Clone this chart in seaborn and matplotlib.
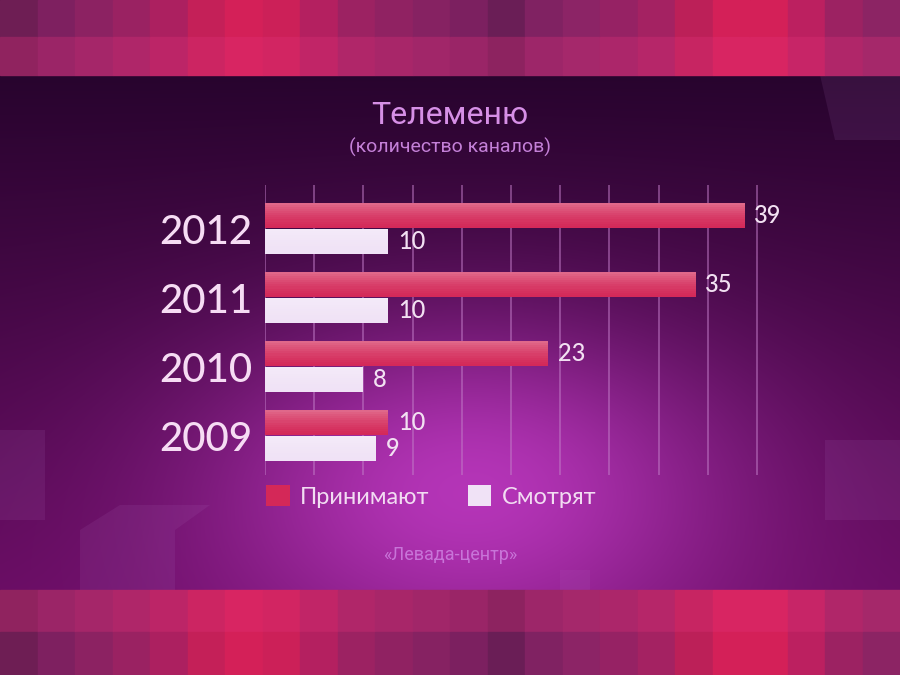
import numpy as np
import pandas as pd
import matplotlib
matplotlib.use("Agg")
import matplotlib.pyplot as plt
import matplotlib.colors as mcolors
from matplotlib.patches import Rectangle, Polygon
import seaborn as sns

# data
years = ["2012", "2011", "2010", "2009"]
receive = [39, 35, 23, 10]
watch = [10, 10, 8, 9]
series_names = ["Принимают", "Смотрят"]
grid_ticks = list(range(0, 41, 4))

title = "Телеменю"
subtitle = "(количество каналов)"
source = "«Левада-центр»"

# colours of the mosaic strips (left to right)
strip_colors = ["#6e1e54", "#7e2060", "#8c2262", "#9a2262", "#ac2060", "#c42058",
                "#d42058", "#cc2058", "#b42060", "#9c2262", "#902262", "#862262",
                "#7c2060", "#6a1e56", "#802262", "#8c2466", "#962264", "#a42262",
                "#bc2058", "#d42058", "#d42058", "#bc2060", "#9c2262", "#8c2464"]

pink = "#d42858"
white = "#f0e2f6"

df = pd.DataFrame({
    "year": years * 2,
    "value": receive + watch,
    "series": [series_names[0]] * len(years) + [series_names[1]] * len(years),
})

sns.set_theme(style="white")
plt.rcParams["font.family"] = ["Lato", "DejaVu Sans"]

W, H = 900, 675
fig = plt.figure(figsize=(9, 6.75), dpi=100)

# background
bg = fig.add_axes([0, 0, 1, 1])
bg.set_xlim(0, W)
bg.set_ylim(H, 0)
bg.axis("off")
yy, xx = np.mgrid[0:H, 0:W]
c_top = np.array(mcolors.to_rgb("#28042e"))
c_bot = np.array(mcolors.to_rgb("#680c62"))
t = np.clip((yy - 75) / 515, 0, 1)[..., None]
img = c_top * (1 - t) + c_bot * t
glow = np.exp(-(((xx - 470) / 270) ** 2 + ((yy - 490) / 170) ** 2))[..., None]
img = img + glow * (np.array(mcolors.to_rgb("#c43cc8")) - img) * 0.85
bg.imshow(img, extent=(0, W, H, 0), aspect="auto", zorder=0)

# faint boxes at the sides
boxes = [[(80, 590), (80, 530), (120, 505), (210, 505), (175, 530), (175, 590)],
         [(820, 75), (900, 75), (900, 140), (835, 140)],
         [(825, 440), (900, 440), (900, 520), (825, 520)],
         [(0, 430), (45, 430), (45, 520), (0, 520)],
         [(560, 590), (560, 570), (590, 570), (590, 590)]]
for pts in boxes:
    bg.add_patch(Polygon(pts, closed=True, facecolor="#b070c0", alpha=0.12,
                         edgecolor="none", zorder=1))

# mosaic strips top and bottom
tw = W / len(strip_colors)
for i, c in enumerate(strip_colors):
    lite = mcolors.to_hex(np.array(mcolors.to_rgb(c)) * 0.7 + np.array(mcolors.to_rgb("#e03078")) * 0.3)
    bg.add_patch(Rectangle((i * tw, 0), tw, 37, color=c, zorder=2))
    bg.add_patch(Rectangle((i * tw, 37), tw, 38, color=lite, zorder=2))
    bg.add_patch(Rectangle((i * tw, 590), tw, 42, color=lite, zorder=2))
    bg.add_patch(Rectangle((i * tw, 632), tw, 43, color=c, zorder=2))

# chart
ax = fig.add_axes([265 / W, 1 - 475 / H, 494.5 / W, 290 / H])
ax.patch.set_alpha(0)
sns.barplot(data=df, y="year", x="value", hue="series", order=years,
            hue_order=series_names, palette=[pink, white], orient="h",
            width=0.76, gap=0.06, saturation=1, edgecolor="none", ax=ax)

# soft vertical shading on each bar: lighter at the top
n_steps = 12
for p in list(ax.patches):
    x0, y0 = p.get_x(), p.get_y()
    w, h = p.get_width(), p.get_height()
    for k in range(n_steps):
        a = 0.30 * (1 - k / n_steps) ** 1.5
        ax.add_patch(Rectangle((x0, y0 + h * k / n_steps), w, h / n_steps,
                               facecolor="white", alpha=a, edgecolor="none",
                               zorder=p.get_zorder() + 0.1))

for cont in ax.containers:
    ax.bar_label(cont, padding=7, color="#f2e0f2", fontsize=17, fontweight="medium")

ax.set_xlim(0, 40.2)
ax.set_ylim(3.57, -0.63)
ax.set_xticks(grid_ticks)
ax.xaxis.grid(True, color="#c27cc8", alpha=0.55, lw=1.3)
ax.yaxis.grid(False)
ax.set_axisbelow(True)
ax.tick_params(axis="x", length=0, labelbottom=False)
ax.tick_params(axis="y", length=0, pad=9, labelsize=29, labelcolor="#f6dcf4")
for lab in ax.get_yticklabels():
    lab.set_fontweight("medium")
ax.set_xlabel("")
ax.set_ylabel("")
for s in ax.spines.values():
    s.set_visible(False)

handles, labels = ax.get_legend_handles_labels()
ax.get_legend().remove()
fig.legend(handles, labels, loc="upper left", bbox_to_anchor=(266 / W, 1 - 485 / H),
           ncol=2, frameon=False, fontsize=17, labelcolor="#f2dcf2",
           handlelength=1.0, handleheight=1.0, handletextpad=0.45,
           columnspacing=1.6, borderpad=0, borderaxespad=0)

fig.text(0.5, 1 - 115 / H, title, ha="center", va="center", fontsize=23,
         color="#d68fe6", family=["Roboto", "DejaVu Sans"])
fig.text(0.5, 1 - 147 / H, subtitle, ha="center", va="center", fontsize=14,
         color="#c480d8", family=["Roboto", "DejaVu Sans"])
fig.text(0.5, 1 - 555 / H, source, ha="center", va="center", fontsize=13,
         color="#c874d8", family=["Roboto", "DejaVu Sans"])

fig.savefig("out.png", dpi=100)
